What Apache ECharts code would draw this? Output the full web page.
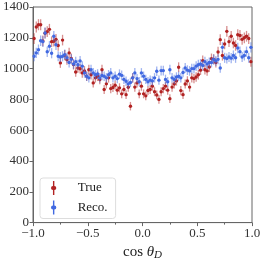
<!DOCTYPE html>
<html><head><meta charset="utf-8">
<script src="https://cdn.jsdelivr.net/npm/echarts@6/dist/echarts.min.js"></script>
<style>html,body{margin:0;padding:0;background:#fff}#c{width:266px;height:266px}</style>
</head><body><div id="c"></div>
<script>
// 100 bins over cos(theta_D) in [-1, 1]
const binLow = -1, binWidth = 0.02, nBins = 100;
const xTicks = [-1.0, -0.5, 0.0, 0.5, 1.0];
const yTicks = [0, 200, 400, 600, 800, 1000, 1200, 1400];
const seriesNames = ['True', 'Reco.'];
const trueValues = [
 1195,1270,1285,1285,1180,1230,1240,1255,1175,1178,
 1190,1150,1037,1185,1087,1058,1102,1066,1026,978,
 1004,999,972,985,950,993,960,907,940,950,
 929,993,864,901,940,870,877,892,860,875,
 836,864,831,879,756,940,880,907,836,886,
 836,823,858,864,886,850,829,800,850,870,
 886,860,805,880,900,920,1009,857,831,900,
 920,880,940,935,945,960,990,1052,993,985,
 1010,1065,1060,1040,1108,1188,1085,1160,1242,1175,
 1210,1166,1150,1220,1215,1190,1200,1210,1195,1045];
const recoValues = [
 1080,1102,1123,1181,1175,1231,1109,1145,1100,1210,
 1155,1080,1075,1080,1091,1070,1040,1060,1030,1045,
 1025,1050,1016,972,950,940,993,972,960,965,
 940,955,950,940,960,972,940,950,935,964,
 956,930,918,901,910,940,972,935,915,972,
 950,930,915,925,920,940,983,925,987,987,
 930,915,993,940,930,945,950,940,975,1004,
 990,985,1000,1000,1016,1025,1030,1020,1045,1030,
 1040,1040,1059,1050,1060,1004,1138,1070,1065,1075,
 1068,1085,1070,1134,1110,1075,1085,1110,1070,1138];
const colors = ['#b22222', '#4169e1'];

const centers = [];
for (let i = 0; i < nBins; i++) centers.push(+(binLow + binWidth * (i + 0.5)).toFixed(3));
function build(vals) { return vals.map((v, i) => [centers[i], v, Math.sqrt(v)]); }

const font = 'Liberation Serif';
function makeSeries(name, vals, color) {
  return {
    name, type: 'custom', data: build(vals),
    itemStyle: { color },
    renderItem: function (params, api) {
      const x = api.value(0), y = api.value(1), e = api.value(2);
      const p = api.coord([x, y]);
      const t = api.coord([x, y + e]), b = api.coord([x, y - e]);
      const l = api.coord([x - binWidth / 2, y]), r = api.coord([x + binWidth / 2, y]);
      return { type: 'group', children: [
        { type: 'line', shape: { x1: p[0], y1: t[1], x2: p[0], y2: b[1] }, style: { stroke: color, lineWidth: 1.3, opacity: 0.5 } },
        { type: 'line', shape: { x1: l[0], y1: p[1], x2: r[0], y2: p[1] }, style: { stroke: color, lineWidth: 1.3, opacity: 0.5 } },
        { type: 'circle', shape: { cx: p[0], cy: p[1], r: 1.7 }, style: { fill: color } }
      ]};
    }
  };
}

const chart = echarts.init(document.getElementById('c'));
chart.setOption({
  animation: false,
  textStyle: { fontFamily: font },
  grid: { left: 33, right: 14, top: 7, bottom: 41, show: true, borderColor: '#666', borderWidth: 1, backgroundColor: 'transparent' },
  legend: {
    left: 40, top: 178, orient: 'vertical',
    data: seriesNames.map((n, i) => ({ name: n, itemStyle: { color: colors[i] } })),
    icon: 'path://M9,0h2v7.2a2.8,2.8 0 1 1 0,5.6v7.2h-2v-7.2a2.8,2.8 0 1 1 0,-5.6z',
    itemWidth: 14, itemHeight: 14, itemGap: 5.5,
    padding: [3, 8, 4, 11],
    borderColor: '#ddd', borderWidth: 1, borderRadius: 3,
    backgroundColor: 'rgba(255,255,255,0.8)',
    textStyle: { fontFamily: font, fontSize: 13, color: '#222', padding: [0, 0, 0, 12] }
  },
  xAxis: {
    type: 'value', min: xTicks[0], max: xTicks[xTicks.length - 1], interval: 0.5,
    name: '{a|cos }{b|θ}{c|D}', nameLocation: 'middle', nameGap: 20,
    nameTextStyle: { rich: {
      a: { fontFamily: font, fontSize: 15, color: '#222' },
      b: { fontFamily: font, fontSize: 15, fontStyle: 'italic', color: '#222' },
      c: { fontFamily: font, fontSize: 11, fontStyle: 'italic', color: '#222', padding: [7, 0, 0, 0] }
    } },
    axisLine: { show: true, onZero: false, lineStyle: { color: '#666' } },
    axisTick: { show: true, length: 3.5, lineStyle: { color: '#666' } },
    minorTick: { show: true, splitNumber: 2, length: 2, lineStyle: { color: '#666' } },
    splitLine: { show: false },
    axisLabel: { fontFamily: font, fontSize: 13, color: '#333', margin: 4,
      formatter: v => (v < 0 ? '\u2212' : '') + Math.abs(v).toFixed(1) }
  },
  yAxis: {
    type: 'value', min: yTicks[0], max: yTicks[yTicks.length - 1], interval: 200,
    axisLine: { show: true, onZero: false, lineStyle: { color: '#666' } },
    axisTick: { show: true, length: 3.5, lineStyle: { color: '#666' } },
    splitLine: { show: false },
    axisLabel: { fontFamily: font, fontSize: 13, color: '#333', margin: 4, formatter: v => String(v) }
  },
  series: [makeSeries(seriesNames[0], trueValues, colors[0]), makeSeries(seriesNames[1], recoValues, colors[1])]
});
</script></body></html>
